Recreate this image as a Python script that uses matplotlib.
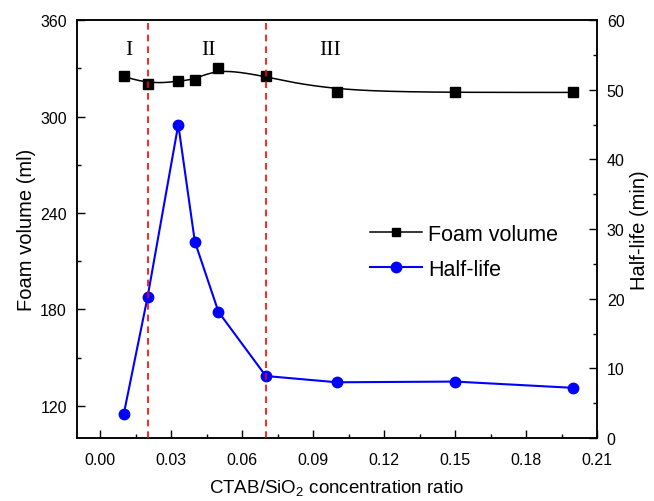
import matplotlib
matplotlib.use('Agg')
import matplotlib.pyplot as plt
from matplotlib.ticker import MultipleLocator
import numpy as np

# data
ratio = [0.01, 0.02, 0.033, 0.04, 0.05, 0.07, 0.10, 0.15, 0.20]
foam_volume = [325, 320, 322, 323, 330, 325, 315, 315, 315]
half_life = [3.5, 20.2, 45.0, 28.2, 18.1, 8.9, 8.0, 8.1, 7.2]
region_bounds = [0.02, 0.07]
region_labels = ['I', 'II', 'III']
region_label_x = [0.012, 0.0456, 0.097]


def bspline(x, y, num=500, k=3):
    # clamped cubic B-spline using the points as control points
    P = np.column_stack([x, y]).astype(float)
    n = len(P)
    knots = np.concatenate([np.zeros(k), np.arange(n - k + 1), np.full(k, n - k)]).astype(float)
    ts = np.linspace(0, n - k, num)
    ts[-1] -= 1e-9
    N = np.zeros((num, len(knots) - 1))
    for j in range(len(knots) - 1):
        N[:, j] = (knots[j] <= ts) & (ts < knots[j + 1])
    for d in range(1, k + 1):
        Nn = np.zeros((num, len(knots) - 1 - d))
        for j in range(len(knots) - 1 - d):
            a = knots[j + d] - knots[j]
            b = knots[j + d + 1] - knots[j + 1]
            left = (ts - knots[j]) / a * N[:, j] if a > 0 else 0
            right = (knots[j + d + 1] - ts) / b * N[:, j + 1] if b > 0 else 0
            Nn[:, j] = left + right
        N = Nn
    C = N @ P
    return C[:, 0], C[:, 1]


plt.rcParams['font.family'] = ['Liberation Sans', 'DejaVu Sans']
plt.rcParams['mathtext.fontset'] = 'custom'
plt.rcParams['mathtext.rm'] = 'Liberation Sans'

fig = plt.figure(figsize=(6.54, 5.02), dpi=100)
ax = fig.add_axes([0.117, 0.1255, 0.796, 0.8325])
ax2 = ax.twinx()

bx, by = bspline(ratio, foam_volume)
ax.plot(bx, by, color='black', lw=1.1, zorder=2)
ax.plot(ratio, foam_volume, 's', color='black', ms=6.5, zorder=3)
h1, = ax.plot([], [], '-s', color='black', lw=1.1, ms=6, label='Foam volume')

h2, = ax2.plot(ratio, half_life, '-o', color='blue', lw=1.5, ms=7.5, label='Half-life')

for xb in region_bounds:
    ax2.axvline(xb, color='red', lw=1.2, linestyle=(0, (4, 3)), zorder=5)

for lab, xl in zip(region_labels, region_label_x):
    ax.text(xl, 342, lab, ha='center', va='center', fontsize=15.5,
            family='Liberation Serif')

ax.set_xlim(-0.01, 0.21)
ax.set_ylim(100, 360)
ax2.set_ylim(0, 60)
ax.xaxis.set_major_locator(MultipleLocator(0.03))
ax.xaxis.set_minor_locator(MultipleLocator(0.015))
ax.yaxis.set_major_locator(MultipleLocator(60))
ax.yaxis.set_minor_locator(MultipleLocator(30))
ax2.yaxis.set_major_locator(MultipleLocator(10))
ax2.yaxis.set_minor_locator(MultipleLocator(5))
ax.xaxis.set_major_formatter(plt.FormatStrFormatter('%.2f'))

for a in (ax, ax2):
    a.tick_params(which='major', direction='in', length=6, width=1, labelsize=11.5, pad=7)
    a.tick_params(which='minor', direction='in', length=3, width=1)
    for s in a.spines.values():
        s.set_linewidth(1.1)
ax.tick_params(axis='x', which='major', pad=10)
ax.tick_params(axis='y', which='both', right=False)

ax.set_xlabel('CTAB/SiO$_2$ concentration ratio', fontsize=13.5, labelpad=8)
ax.set_ylabel('Foam volume (ml)', fontsize=14.5, labelpad=3)
ax2.set_ylabel('Half-life (min)', fontsize=14.5, labelpad=4)

ax2.legend(handles=[h1, h2], loc='center left', bbox_to_anchor=(0.527, 0.446),
           frameon=False, fontsize=15.5, handlelength=2.4, handletextpad=0.3,
           labelspacing=0.65)

fig.savefig('out.png', dpi=100)
